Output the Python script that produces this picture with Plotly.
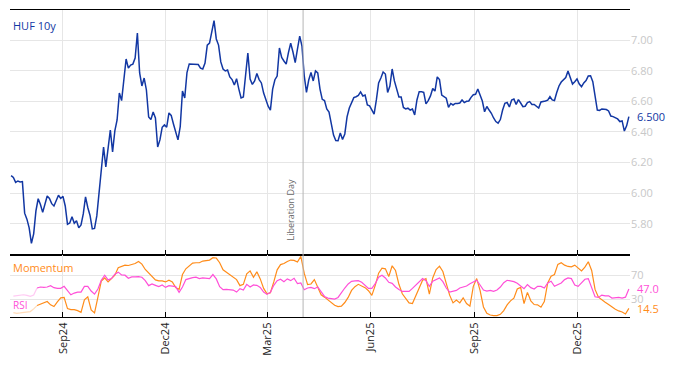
import pandas as pd
import plotly.graph_objects as go

# ---------------- data ----------------
yield_start = "2024-07-17"
huf10y = [
    6.115, 6.103, 6.071, 6.080, 6.074, 6.076, 5.870, 5.831, 5.774, 5.673,
    5.735, 5.885, 5.964, 5.927, 5.875, 5.930, 5.982, 5.966, 5.932, 5.917,
    5.950, 5.987, 5.966, 5.980, 5.917, 5.797, 5.806, 5.846, 5.804, 5.821,
    5.774, 5.793, 5.865, 5.976, 5.907, 5.855, 5.767, 5.770, 5.852, 6.009,
    6.162, 6.302, 6.172, 6.309, 6.413, 6.270, 6.407, 6.478, 6.654, 6.605,
    6.733, 6.876, 6.817, 6.837, 6.843, 6.883, 7.046, 6.785, 6.700, 6.752,
    6.674, 6.498, 6.481, 6.530, 6.491, 6.302, 6.348, 6.430, 6.446, 6.431,
    6.524, 6.508, 6.452, 6.400, 6.348, 6.435, 6.667, 6.622, 6.788, 6.844,
    6.844, 6.844, 6.844, 6.840, 6.817, 6.811, 6.850, 6.967, 6.980, 7.065,
    7.127, 7.007, 6.967, 6.857, 6.811, 6.798, 6.804, 6.759, 6.742, 6.707,
    6.748, 6.680, 6.622, 6.628, 6.791, 6.915, 6.746, 6.710, 6.733, 6.782,
    6.742, 6.720, 6.654, 6.609, 6.568, 6.543, 6.680, 6.741, 6.765, 6.948,
    6.886, 6.863, 6.843, 6.918, 6.980, 6.922, 6.853, 6.941, 7.026, 6.961,
    6.768, 6.658, 6.739, 6.788, 6.733, 6.798, 6.785, 6.680, 6.613, 6.605,
    6.550, 6.530, 6.452, 6.380, 6.344, 6.343, 6.393, 6.351, 6.387, 6.498,
    6.556, 6.589, 6.624, 6.630, 6.638, 6.661, 6.635, 6.641, 6.576, 6.570,
    6.543, 6.517, 6.609, 6.720, 6.752, 6.791, 6.778, 6.658, 6.700, 6.811,
    6.733, 6.687, 6.628, 6.628, 6.560, 6.550, 6.555, 6.543, 6.550, 6.511,
    6.609, 6.663, 6.663, 6.658, 6.583, 6.605, 6.635, 6.684, 6.667, 6.759,
    6.742, 6.641, 6.628, 6.620, 6.561, 6.586, 6.576, 6.586, 6.586, 6.589,
    6.609, 6.592, 6.600, 6.602, 6.626, 6.643, 6.646, 6.680, 6.641, 6.602,
    6.532, 6.566, 6.543, 6.522, 6.491, 6.468, 6.457, 6.481, 6.543, 6.587,
    6.592, 6.563, 6.609, 6.615, 6.579, 6.611, 6.589, 6.565, 6.568, 6.591,
    6.598, 6.579, 6.579, 6.565, 6.556, 6.596, 6.598, 6.602, 6.607, 6.630,
    6.609, 6.605, 6.658, 6.700, 6.726, 6.739, 6.755, 6.798, 6.752, 6.713,
    6.728, 6.746, 6.713, 6.696, 6.720, 6.736, 6.765, 6.767, 6.728, 6.622,
    6.543, 6.541, 6.550, 6.548, 6.546, 6.537, 6.504, 6.500, 6.491, 6.485,
    6.468, 6.472, 6.406, 6.440, 6.500,
]

indicator_start = "2024-07-19"
momentum = [
    7.4, 6.2, 6.8, 7.9, 8.5, 9.1, 13.6, 19.2, 21.5, 23.2,
    26.0, 20.4, 17.5, 25.4, 32.2, 32.8, 14.1, 12.4, 12.4, 10.7,
    7.9, 28.8, 33.9, 11.9, 6.8, 33.3, 60.5, 65.5, 58.8, 64.4,
    70.1, 82.5, 84.2, 87.0, 86.4, 88.2, 89.8, 93.2, 88.7, 79.7,
    73.5, 68.4, 62.2, 60.5, 60.5, 58.8, 61.6, 58.8, 49.2, 46.3,
    71.2, 80.8, 85.3, 90.4, 91.0, 91.0, 93.8, 94.4, 95.5, 99.5,
    98.9, 91.0, 79.1, 75.2, 70.6, 66.1, 62.7, 52.6, 54.8, 72.3,
    77.4, 66.7, 75.7, 63.9, 48.0, 39.0, 40.7, 58.8, 79.1, 87.9,
    89.8, 93.2, 95.5, 94.9, 92.1, 101.7, 73.5, 54.3, 55.4, 62.7,
    48.6, 37.3, 33.3, 28.3, 23.2, 19.8, 17.5, 18.1, 24.3, 32.8,
    44.6, 50.9, 54.8, 52.6, 49.2, 44.1, 36.2, 53.1, 73.5, 81.9,
    80.8, 67.8, 85.9, 78.0, 54.8, 39.0, 32.2, 23.7, 22.6, 35.6,
    50.9, 61.6, 64.4, 38.4, 65.5, 79.7, 85.3, 76.3, 56.5, 36.7,
    23.7, 28.3, 23.7, 32.2, 22.6, 18.1, 51.4, 64.4, 44.6, 16.9,
    6.2, 3.4, 2.3, 2.3, 4.5, 10.7, 20.4, 27.1, 31.6, 46.9,
    49.7, 22.6, 41.3, 27.1, 20.9, 20.4, 16.4, 26.0, 57.1, 68.4,
    71.2, 88.2, 91.0, 87.0, 84.8, 84.2, 87.0, 81.4, 77.4, 83.6,
    92.7, 78.0, 46.3, 33.3, 28.3, 24.9, 20.9, 16.4, 13.0, 10.2,
    8.5, 5.1, 14.5,
]
rsi = [
    35.0, 36.2, 36.7, 37.3, 36.2, 34.5, 36.7, 48.6, 50.3, 49.7,
    50.3, 52.6, 49.2, 48.0, 48.0, 51.4, 44.6, 37.3, 40.1, 41.8,
    41.8, 51.4, 51.4, 43.5, 38.4, 46.9, 61.6, 70.1, 62.2, 64.4,
    71.8, 75.2, 70.6, 70.1, 65.0, 67.2, 67.2, 67.8, 66.7, 61.0,
    52.6, 55.4, 53.1, 50.9, 53.7, 49.7, 52.6, 52.0, 50.9, 41.3,
    50.3, 62.7, 65.0, 66.1, 66.7, 64.4, 65.5, 64.4, 64.4, 71.2,
    63.9, 50.9, 45.8, 46.3, 45.2, 45.2, 41.8, 47.5, 45.2, 54.8,
    50.3, 53.7, 53.1, 49.7, 41.8, 37.9, 41.3, 53.1, 61.0, 63.3,
    59.3, 63.9, 61.0, 65.0, 56.0, 57.1, 45.8, 48.6, 49.7, 47.5,
    50.3, 42.9, 34.5, 31.7, 30.5, 30.0, 32.8, 41.8, 48.6, 55.4,
    59.9, 60.5, 61.0, 58.2, 52.6, 48.0, 48.0, 55.9, 66.7, 70.1,
    65.5, 58.2, 56.5, 50.3, 46.3, 42.9, 42.9, 42.9, 48.0, 53.7,
    59.3, 64.4, 61.0, 51.4, 59.9, 62.7, 65.5, 59.3, 48.6, 41.8,
    42.9, 44.6, 48.6, 49.7, 52.0, 55.9, 59.3, 61.6, 53.7, 45.2,
    43.5, 44.6, 42.9, 45.2, 50.3, 57.6, 61.6, 60.5, 59.3, 56.5,
    52.6, 47.5, 54.3, 49.2, 46.9, 51.4, 51.4, 48.6, 57.1, 59.9,
    51.4, 54.3, 57.1, 62.7, 65.5, 64.4, 53.7, 51.4, 57.6, 63.3,
    64.4, 48.6, 33.9, 32.8, 36.7, 35.6, 35.6, 31.7, 32.8, 32.8,
    31.7, 33.3, 47.0,
]
warmup_points = 8  # indicator warm-up drawn faded

tick_dates = ["2024-09-01", "2024-12-01", "2025-03-01", "2025-06-01", "2025-09-01", "2025-12-01"]
tick_labels = ["Sep24", "Dec24", "Mar25", "Jun25", "Sep25", "Dec25"]
event_date = "2025-04-02"
event_label = "Liberation Day"
yield_ticks = [5.8, 6.0, 6.2, 6.4, 6.6, 6.8, 7.0]
osc_ticks = [30, 70]

# ---------------- styles ----------------
BLUE = "#1237a3"
ORANGE = "#ff8c1a"
PINK = "#ff4fd8"
GRID = "#e6e6e6"
TICKGREY = "#c8c8c8"
FONT = "Open Sans"

yield_dates = pd.date_range(yield_start, periods=len(huf10y), freq="2D")
ind_dates = pd.date_range(indicator_start, periods=len(momentum), freq="3D")

fig = go.Figure()
fig.add_trace(go.Scatter(x=yield_dates, y=huf10y, mode="lines",
                         line=dict(color=BLUE, width=1.5), xaxis="x", yaxis="y",
                         showlegend=False, hoverinfo="skip"))
# faded warm-up segments
fig.add_trace(go.Scatter(x=ind_dates[:warmup_points], y=momentum[:warmup_points], mode="lines",
                         line=dict(color=ORANGE, width=1.2), opacity=0.3,
                         xaxis="x2", yaxis="y2", showlegend=False, hoverinfo="skip"))
fig.add_trace(go.Scatter(x=ind_dates[:warmup_points], y=rsi[:warmup_points], mode="lines",
                         line=dict(color=PINK, width=1.2), opacity=0.3,
                         xaxis="x2", yaxis="y2", showlegend=False, hoverinfo="skip"))
fig.add_trace(go.Scatter(x=ind_dates[warmup_points - 1:], y=momentum[warmup_points - 1:], mode="lines",
                         line=dict(color=ORANGE, width=1.2),
                         xaxis="x2", yaxis="y2", showlegend=False, hoverinfo="skip"))
fig.add_trace(go.Scatter(x=ind_dates[warmup_points - 1:], y=rsi[warmup_points - 1:], mode="lines",
                         line=dict(color=PINK, width=1.2),
                         xaxis="x2", yaxis="y2", showlegend=False, hoverinfo="skip"))

xrange = [pd.Timestamp(yield_start) - pd.Timedelta(days=1),
          pd.Timestamp(yield_dates[-1]) + pd.Timedelta(days=1)]
split = 0.202

common_x = dict(range=xrange, type="date", tickvals=tick_dates, ticktext=tick_labels,
                showgrid=True, gridcolor=GRID, gridwidth=1, zeroline=False,
                showline=True, linecolor="#000000", linewidth=1.3, mirror=True,
                ticks="inside", ticklen=5, tickcolor="#000000", tickwidth=1,
                automargin=False)

# page body adds an 8px offset, so the figure is sized to fill the rest of the window
fig.update_layout(
    width=666, height=358,
    margin=dict(l=2, r=44, t=2, b=49, autoexpand=False),
    paper_bgcolor="white", plot_bgcolor="white",
    font=dict(family=FONT, size=11, color="#333333"),
    xaxis=dict(common_x, anchor="y", domain=[0, 1], showticklabels=False),
    yaxis=dict(domain=[split, 1], side="right", range=[5.597, 7.196],
               tickvals=yield_ticks, tickformat=".2f", showgrid=True, gridcolor=GRID,
               zeroline=False, showline=False, ticks="", automargin=False,
               tickfont=dict(family=FONT, size=11, color=TICKGREY)),
    xaxis2=dict(common_x, anchor="y2", domain=[0, 1], matches="x", showticklabels=True,
                tickangle=-90, tickfont=dict(family=FONT, size=11, color="#222222")),
    yaxis2=dict(domain=[0, split], side="right", range=[0, 104],
                tickvals=osc_ticks, showgrid=True, gridcolor=GRID,
                zeroline=False, showline=False, ticks="", automargin=False,
                tickfont=dict(family=FONT, size=11, color=TICKGREY)),
)

# event line across both panels
fig.add_shape(type="line", xref="x", yref="paper", x0=event_date, x1=event_date,
              y0=0, y1=1, line=dict(color="#b5b5b5", width=1))
fig.add_annotation(x=event_date, xref="x", y=5.888, yref="y", text=event_label,
                   textangle=-90, showarrow=False, xanchor="center", yanchor="middle",
                   xshift=-13, font=dict(family=FONT, size=9, color="#666666"))

# panel titles
fig.add_annotation(x=0, xref="paper", y=1, yref="paper", text="HUF 10y", showarrow=False,
                   xanchor="left", yanchor="middle", xshift=1, yshift=-15,
                   font=dict(family=FONT, size=11, color=BLUE))
fig.add_annotation(x=0, xref="paper", y=split, yref="paper", text="Momentum", showarrow=False,
                   xanchor="left", yanchor="middle", xshift=1, yshift=-13,
                   font=dict(family=FONT, size=11, color=ORANGE))
fig.add_annotation(x=0, xref="paper", y=0, yref="paper", text="RSI", showarrow=False,
                   xanchor="left", yanchor="middle", xshift=1, yshift=12,
                   font=dict(family=FONT, size=10, color=PINK))

# last-value labels
fig.add_annotation(x=1, xref="paper", y=huf10y[-1], yref="y", text=f"{huf10y[-1]:.3f}",
                   showarrow=False, xanchor="left", yanchor="middle", xshift=5,
                   font=dict(family=FONT, size=11, color=BLUE))
fig.add_annotation(x=1, xref="paper", y=rsi[-1], yref="y2", text=f"{rsi[-1]:.1f}",
                   showarrow=False, xanchor="left", yanchor="middle", xshift=5,
                   font=dict(family=FONT, size=11, color=PINK))
fig.add_annotation(x=1, xref="paper", y=momentum[-1], yref="y2", text=f"{momentum[-1]:.1f}",
                   showarrow=False, xanchor="left", yanchor="middle", xshift=5,
                   font=dict(family=FONT, size=11, color=ORANGE))

fig.write_html("out.html")
